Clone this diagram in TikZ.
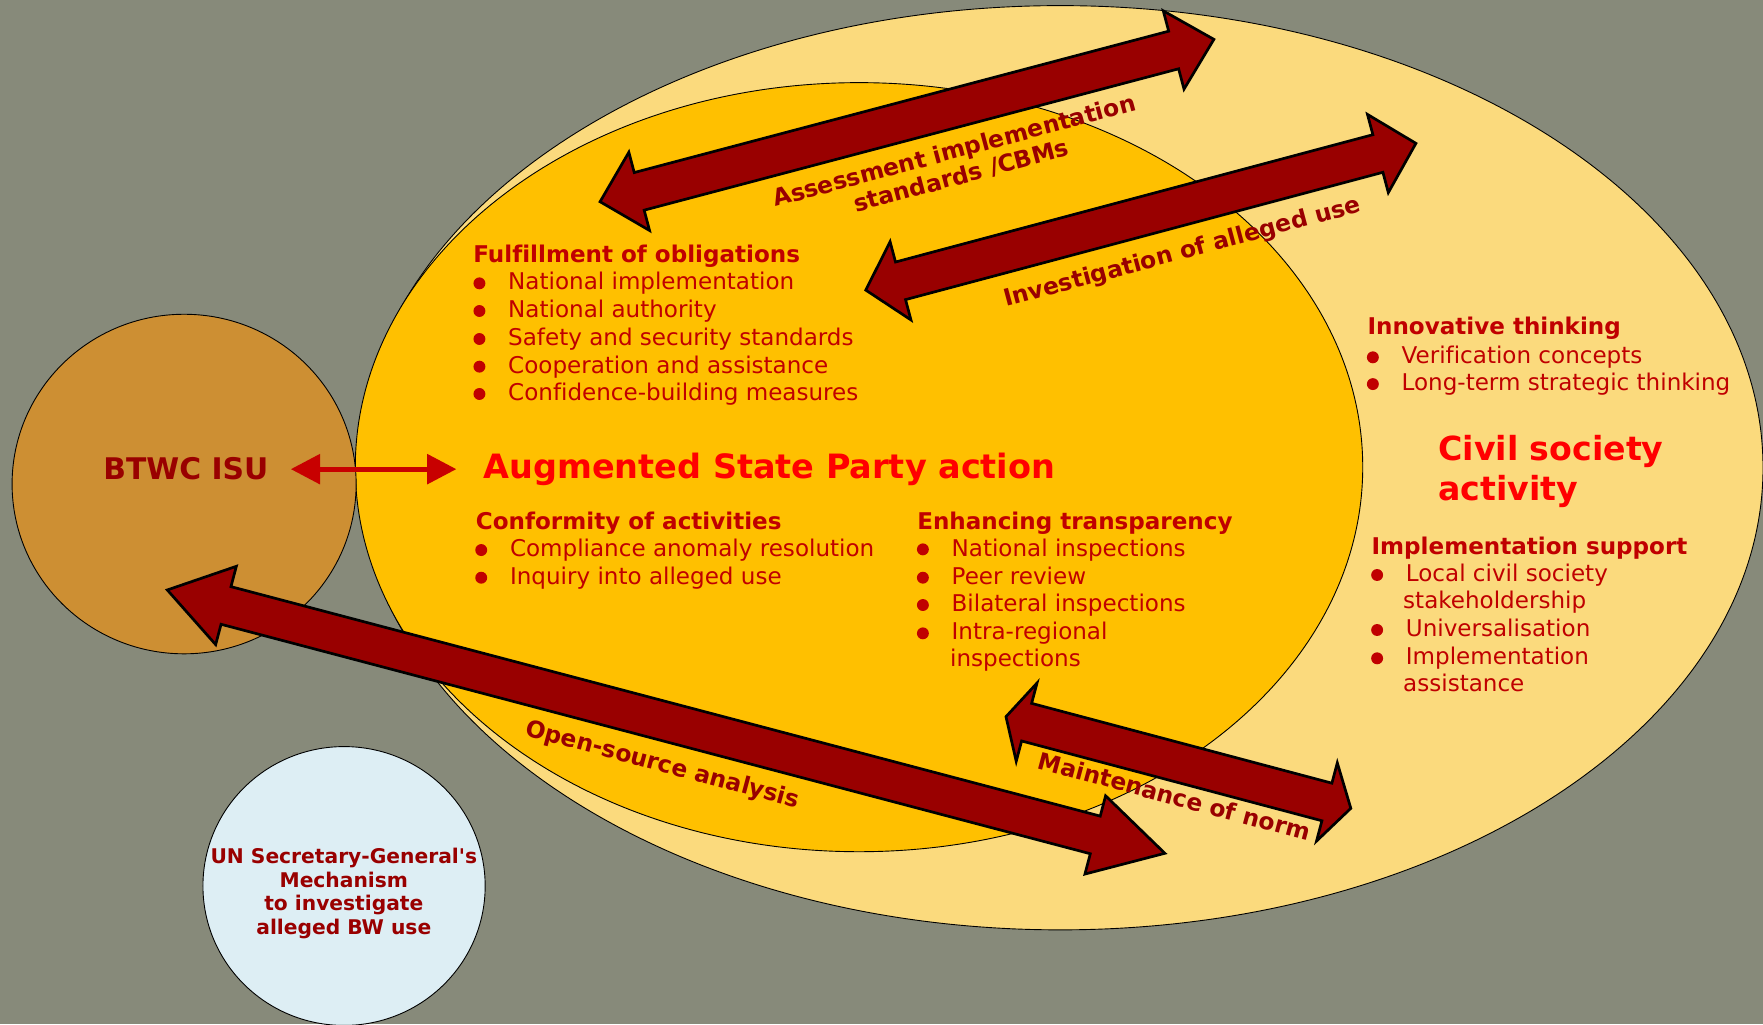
\documentclass[tikz,border=0pt]{standalone}
\usepackage{fontspec}
\setmainfont{DejaVu Sans}[Ligatures=CommonOff]
\usetikzlibrary{calc,arrows.meta,shapes.geometric}
\definecolor{bg}{RGB}{135,138,122}
\definecolor{pale}{RGB}{251,218,125}
\definecolor{orng}{RGB}{255,192,0}
\definecolor{isucol}{RGB}{205,143,51}
\definecolor{uncol}{RGB}{221,238,244}
\definecolor{dred}{RGB}{153,0,0}
\definecolor{itemred}{RGB}{192,0,0}
\definecolor{bright}{RGB}{255,0,0}
\definecolor{arrred}{RGB}{200,0,0}
% double block arrow between two named coordinates
\newcommand\blockarrow[4]{%
  \path ($(#1)!#3!(#2)$) coordinate (pa) ($(#2)!#4!(#1)$) coordinate (pb);
  \draw[blockarr] (#1) -- ($(pa)!36bp!90:(#2)$) -- ($(pa)!17.3bp!90:(#2)$)
    -- ($(pb)!17.3bp!-90:(#1)$) -- ($(pb)!36bp!-90:(#1)$) -- (#2)
    -- ($(pb)!36bp!90:(#1)$) -- ($(pb)!17.3bp!90:(#1)$)
    -- ($(pa)!17.3bp!-90:(#2)$) -- ($(pa)!36bp!-90:(#2)$) -- cycle;}
\newcommand\bitem[3]{%
  \node[item] (#1) at (#2) {#3};
  \fill[itemred] ([xshift=-25.6bp,yshift=5.9bp]#1.base west) circle[radius=5.3bp];}
\begin{document}
\begin{tikzpicture}[x=1bp,y=-1bp,
  item/.style={inner sep=0pt,outer sep=0pt,anchor=base west,text=itemred,
    font=\fontsize{20.5bp}{24.6bp}\selectfont},
  head/.style={item,font=\bfseries\fontsize{20.5bp}{24.6bp}\selectfont},
  lbl/.style={inner sep=0pt,outer sep=0pt,anchor=base west,text=dred,
    font=\bfseries\fontsize{20.8bp}{23.2bp}\selectfont},
  blockarr/.style={fill=dred,draw=black,line width=2.4bp,line join=miter},
  region/.style={ellipse,draw=black,line width=0.8bp,inner sep=0pt,outer sep=0pt}]
\useasboundingbox (0,0) rectangle (1568,911);
\fill[bg] (0,0) rectangle (1568,911);
% regions
\node[region,fill=pale,minimum width=1250bp,minimum height=822bp] (civ) at (943,416) {};
\node[region,fill=orng,minimum width=896bp,minimum height=684bp] (sp) at (764,415.5) {};
\node[region,fill=isucol,minimum width=306bp,minimum height=302bp] (isuc) at (163.75,430.5) {};
\node[region,fill=uncol,minimum width=251bp,minimum height=248bp] (unc) at (306,788) {};
% block arrows
\coordinate (a1l) at (533.7,179.4);  \coordinate (a1r) at (1079.6,35);
\coordinate (a2l) at (770,258);      \coordinate (a2r) at (1259.3,127.5);
\coordinate (a3l) at (148.8,524.7);  \coordinate (a3r) at (1036,758.9);
\coordinate (a4l) at (894.7,637.4);  \coordinate (a4r) at (1201.4,718.9);
\blockarrow{a1l}{a1r}{36bp}{37bp}
\blockarrow{a2l}{a2r}{32bp}{35bp}
\blockarrow{a3l}{a3r}{54bp}{64bp}
\blockarrow{a4l}{a4r}{19bp}{22bp}
% arrow labels
\node[lbl,anchor=north,align=center,rotate=15] (lab1) at (846.5,125.5)
  {\rule{0pt}{16bp}Assessment implementation\\standards /CBMs};
\node[lbl,rotate=15] (lab2) at (895,272.7) {Investigation of alleged use};
\node[lbl,rotate=-15] (lab3) at (466.5,653.7) {Open-source analysis};
\node[lbl,rotate=-15] (lab4) at (922,683.3) {Maintenance of norm};
% centre titles
\node[inner sep=0pt,outer sep=0pt,anchor=base west,text=dred,
  font=\bfseries\fontsize{26.5bp}{30bp}\selectfont] (isu) at (92,426.9) {BTWC ISU};
\node[inner sep=0pt,outer sep=0pt,anchor=base west,text=bright,
  font=\bfseries\fontsize{29.8bp}{34.7bp}\selectfont] (asp) at (429.9,425.5) {Augmented State Party action};
\draw[draw=arrred,line width=4.4bp,
  {Triangle[length=26bp,width=26bp]}-{Triangle[length=26bp,width=26bp]}]
  ($(isu.east)+(20bp,0)$) -- ($(isu.east -| asp.west)+(-24bp,0)$);
\node[inner sep=0pt,outer sep=0pt,anchor=north west,align=left,text=bright,
  font=\bfseries\fontsize{29.5bp}{34.7bp}\selectfont] (csa) at (1279.2,387)
  {\rule{0pt}{23bp}Civil society\\activity};
\node[inner sep=0pt,outer sep=0pt,anchor=north,align=center,text=dred,
  font=\bfseries\fontsize{18bp}{21bp}\selectfont] (unt) at (305.8,753)
  {\rule{0pt}{15bp}UN Secretary-General\textquotesingle s\\Mechanism\\to investigate\\alleged BW use};
% Fulfillment of obligations
\node[head] (fh) at (421,233.3) {Fulfillment of obligations};
\bitem{f1}{452,257.9}{National implementation}
\bitem{f2}{452,282.5}{National authority}
\bitem{f3}{452,307.4}{Safety and security standards}
\bitem{f4}{452,332}{Cooperation and assistance}
\bitem{f5}{452,356.3}{Confidence-building measures}
% Conformity of activities
\node[head] (ch) at (423.3,470.8) {Conformity of activities};
\bitem{c1}{453.6,495.1}{Compliance anomaly resolution}
\bitem{c2}{453.6,519.7}{Inquiry into alleged use}
% Enhancing transparency
\node[head] (eh) at (815.8,470.8) {Enhancing transparency};
\bitem{e1}{846.4,494.5}{National inspections}
\bitem{e2}{846.4,519.7}{Peer review}
\bitem{e3}{846.4,544}{Bilateral inspections}
\bitem{e4}{846.4,569.2}{Intra-regional}
\node[item] (e4b) at (845,592.9) {inspections};
% Innovative thinking
\node[head] (nh) at (1216.3,297.9) {Innovative thinking};
\bitem{n1}{1246.6,323.7}{Verification concepts}
\bitem{n2}{1246.6,347.5}{Long-term strategic thinking}
% Implementation support
\node[head] (ih) at (1219.9,493) {Implementation support};
\bitem{i1}{1250.4,517.3}{Local civil society}
\node[item] (i1b) at (1248,541) {stakeholdership};
\bitem{i2}{1250.4,566.2}{Universalisation}
\bitem{i3}{1250.4,591.4}{Implementation}
\node[item] (i3b) at (1248,615.2) {assistance};
\end{tikzpicture}
\end{document}
